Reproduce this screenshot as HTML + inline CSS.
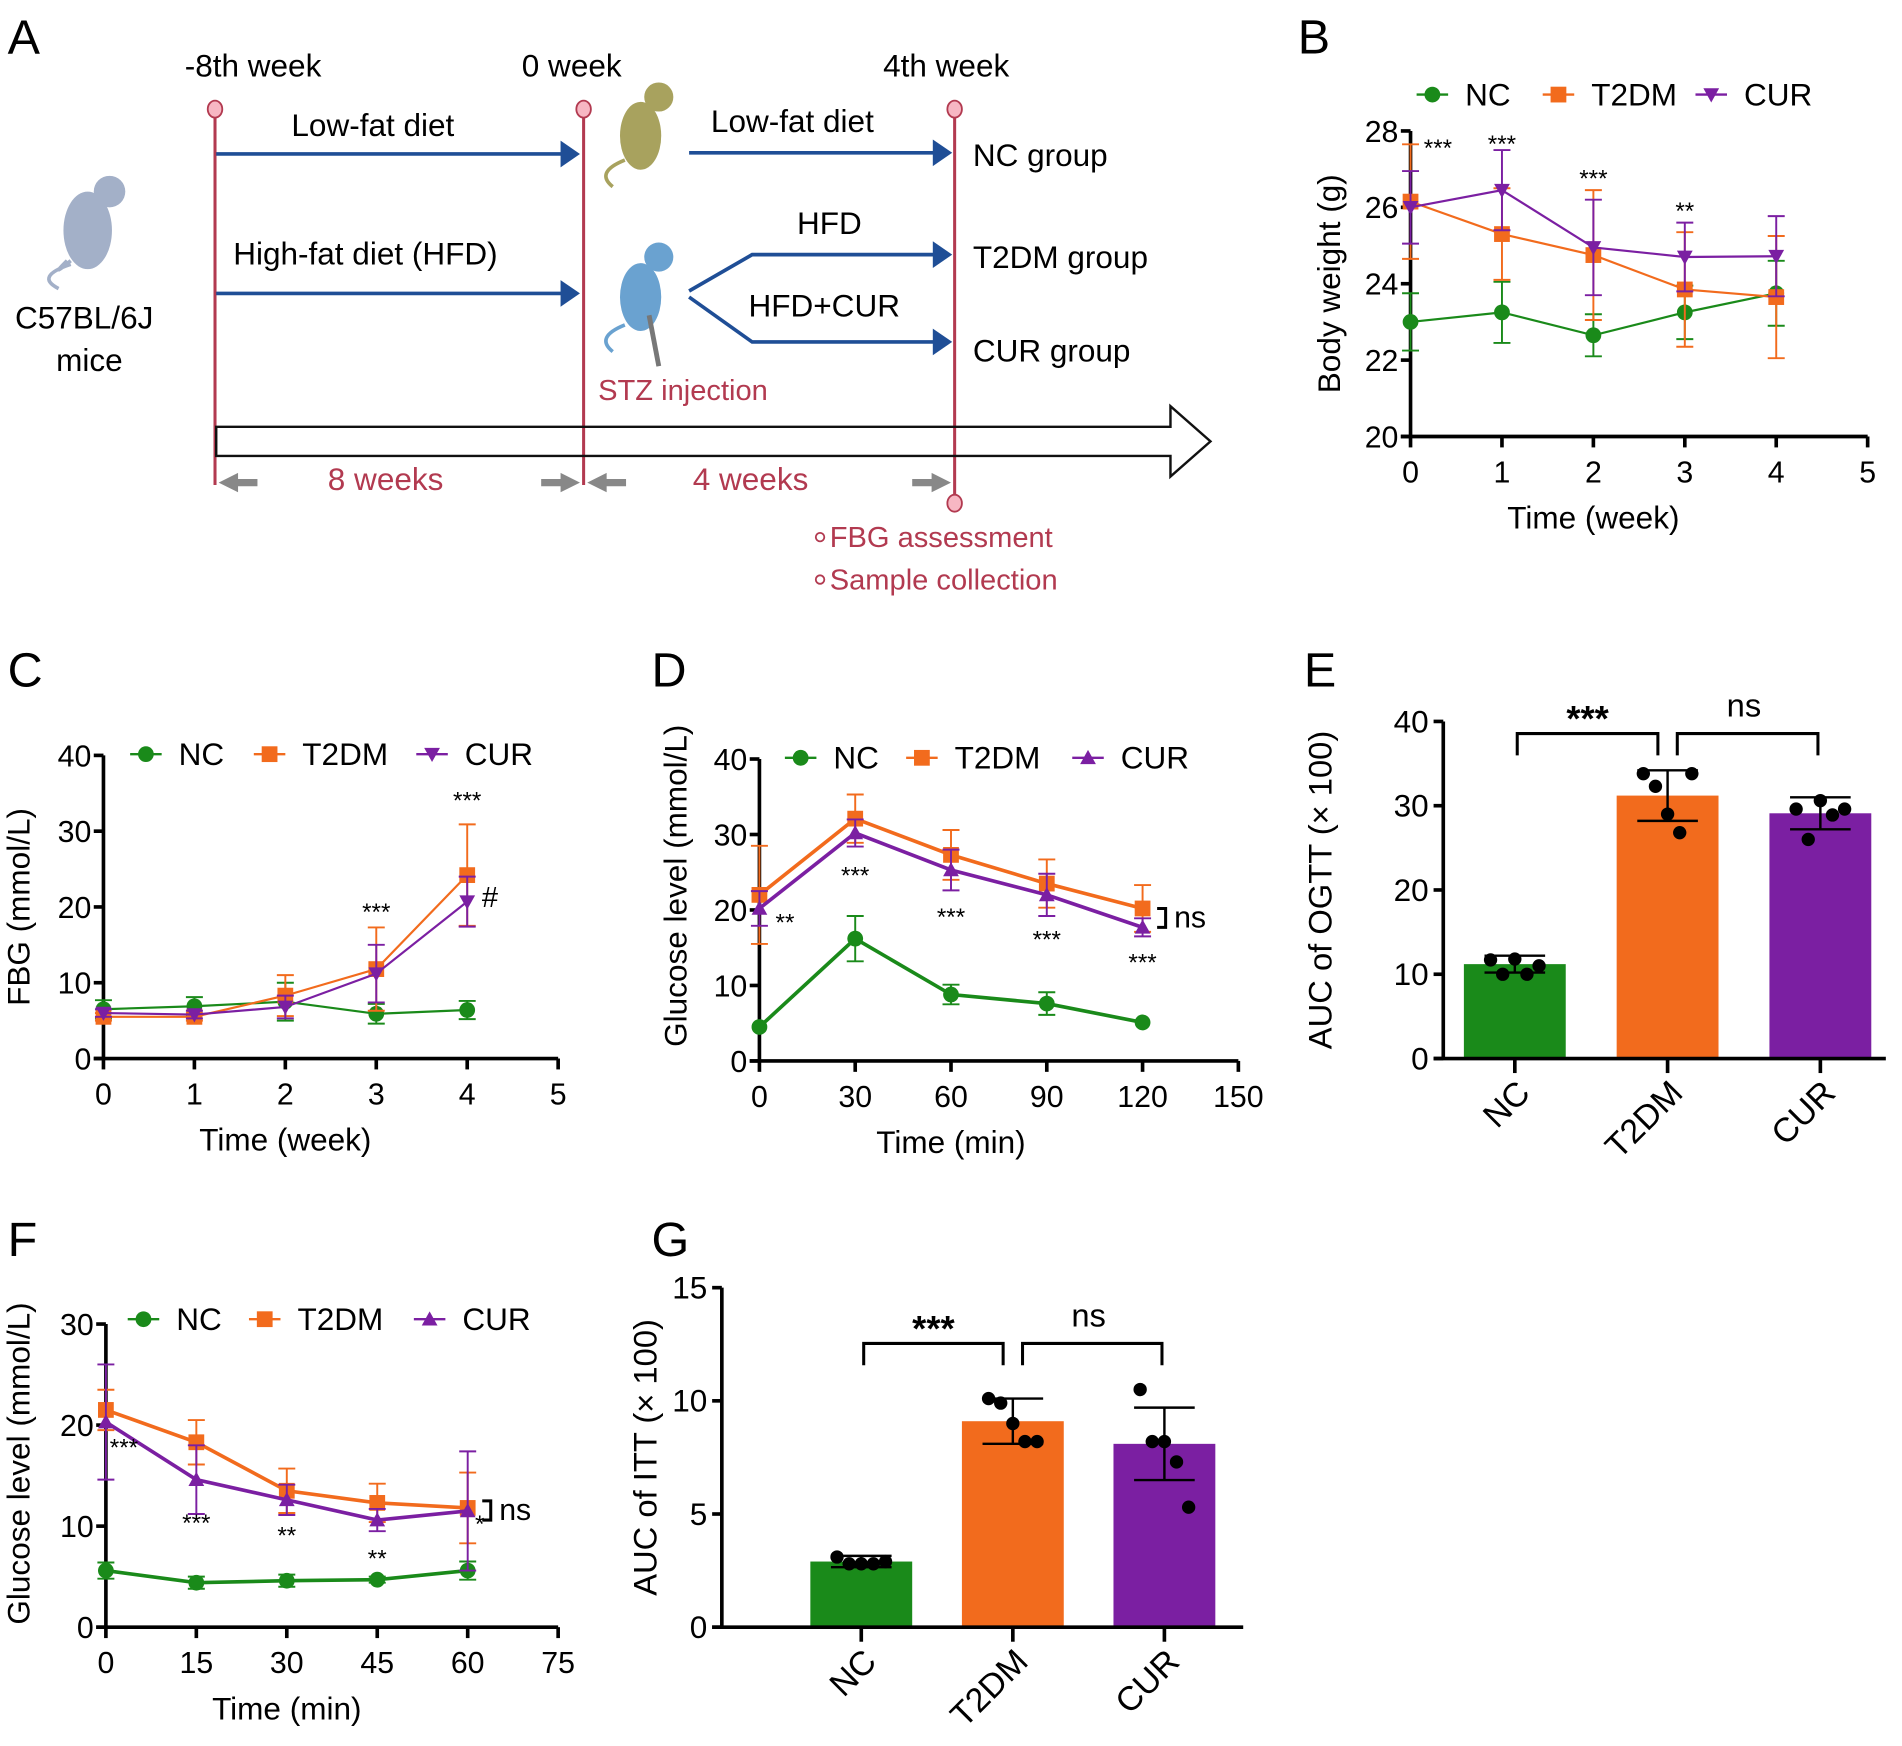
<!DOCTYPE html>
<html><head><meta charset="utf-8">
<style>
html,body{margin:0;padding:0;background:#fff;}
svg{display:block;font-family:"Liberation Sans",Arial,sans-serif;}
</style></head>
<body>
<svg id="fig" width="1902" height="1746" viewBox="0 0 1568 1440" xmlns="http://www.w3.org/2000/svg">
<g id="panelA">
  <text x="6" y="44" font-size="40">A</text>
  <text x="152" y="63" font-size="26">-8th week</text>
  <text x="430" y="63" font-size="26">0 week</text>
  <text x="728" y="63" font-size="26">4th week</text>
  <line x1="177" y1="90" x2="177" y2="400" stroke="#b23a50" stroke-width="2.5"/>
  <line x1="481" y1="90" x2="481" y2="400" stroke="#b23a50" stroke-width="2.5"/>
  <line x1="787" y1="90" x2="787" y2="415" stroke="#b23a50" stroke-width="2.5"/>
  <ellipse cx="177" cy="90" rx="6" ry="7" fill="#f7b7c3" stroke="#b23a50" stroke-width="1.5"/>
  <ellipse cx="481" cy="90" rx="6" ry="7" fill="#f7b7c3" stroke="#b23a50" stroke-width="1.5"/>
  <ellipse cx="787" cy="90" rx="6" ry="7" fill="#f7b7c3" stroke="#b23a50" stroke-width="1.5"/>
  <ellipse cx="787" cy="415" rx="6" ry="7" fill="#f7b7c3" stroke="#b23a50" stroke-width="1.5"/>
  <g stroke="#1f4e96" stroke-width="3" fill="none">
    <line x1="178" y1="127" x2="468" y2="127"/>
    <line x1="178" y1="242" x2="468" y2="242"/>
    <line x1="568" y1="126" x2="774" y2="126"/>
    <polyline points="568,240 620,210 774,210"/>
    <polyline points="568,245 620,282 774,282"/>
  </g>
  <g fill="#1f4e96">
    <polygon points="478,127 462,116 462,138"/>
    <polygon points="478,242 462,231 462,253"/>
    <polygon points="785,126 769,115 769,137"/>
    <polygon points="785,210 769,199 769,221"/>
    <polygon points="785,282 769,271 769,293"/>
  </g>
  <text x="240" y="112" font-size="26">Low-fat diet</text>
  <text x="192" y="218" font-size="26">High-fat diet (HFD)</text>
  <text x="586" y="109" font-size="26">Low-fat diet</text>
  <text x="657" y="193" font-size="26">HFD</text>
  <text x="617" y="261" font-size="26">HFD+CUR</text>
  <text x="802" y="137" font-size="26">NC group</text>
  <text x="802" y="221" font-size="26">T2DM group</text>
  <text x="802" y="298" font-size="26">CUR group</text>
  <text x="12" y="271" font-size="26">C57BL/6J</text>
  <text x="46" y="306" font-size="26">mice</text>
  <text x="493" y="330" font-size="24" fill="#b23a50">STZ injection</text>
  <g fill="#a3b0c8">
    <ellipse cx="72" cy="190" rx="20" ry="32"/><circle cx="90" cy="158" r="13"/>
    <path d="M58 215 Q40 230 55 215 M58 218 q-30 10 -10 20" stroke="#a3b0c8" stroke-width="3" fill="none"/>
  </g>
  <g fill="#a8a25e">
    <ellipse cx="528" cy="112" rx="17" ry="28"/><circle cx="543" cy="80" r="12"/>
    <path d="M515 132 q-25 10 -10 22" stroke="#a8a25e" stroke-width="3" fill="none"/>
  </g>
  <g fill="#6aa2d0">
    <ellipse cx="528" cy="245" rx="17" ry="28"/><circle cx="543" cy="212" r="12"/>
    <path d="M515 268 q-25 10 -10 22" stroke="#6aa2d0" stroke-width="3" fill="none"/>
    <line x1="535" y1="260" x2="543" y2="302" stroke="#777" stroke-width="4"/>
  </g>
  <polygon points="178,352 965,352 965,335 998,364 965,393 965,376 178,376" fill="none" stroke="#111" stroke-width="2"/>
  <g fill="#888">
    <polygon points="180,398 196,390 196,395 212,395 212,401 196,401 196,406"/>
    <polygon points="478,398 462,390 462,395 446,395 446,401 462,401 462,406"/>
    <polygon points="484,398 500,390 500,395 516,395 516,401 500,401 500,406"/>
    <polygon points="784,398 768,390 768,395 752,395 752,401 768,401 768,406"/>
  </g>
  <text x="270" y="404" font-size="26" fill="#b23a50">8 weeks</text>
  <text x="571" y="404" font-size="26" fill="#b23a50">4 weeks</text>
  <circle cx="676" cy="443" r="3.5" fill="none" stroke="#b23a50" stroke-width="1.5"/>
  <circle cx="676" cy="478" r="3.5" fill="none" stroke="#b23a50" stroke-width="1.5"/>
  <text x="684" y="451" font-size="24" fill="#b23a50">FBG assessment</text>
  <text x="684" y="486" font-size="24" fill="#b23a50">Sample collection</text>
</g>
<g id="charts"></g>
</svg>
<script>
// ---------- Data ----------
const weeks = [0,1,2,3,4];
const bwNC = [23.0,23.25,22.65,23.25,23.75];
const bwNCerr = [0.75,0.8,0.55,0.7,0.85];
const bwT2 = [26.15,25.3,24.75,23.85,23.65];
const bwT2err = [1.5,1.2,1.7,1.5,1.6];
const bwCUR = [26.0,26.45,24.95,24.7,24.72];
const bwCURerr = [0.95,1.05,1.25,0.9,1.05];
const bwTicksX = [0,1,2,3,4,5];
const bwTicksY = [20,22,24,26,28];

const fbgNC = [6.5,6.9,7.5,5.9,6.4];
const fbgNCerr = [1.2,1.2,2.5,1.3,1.2];
const fbgT2 = [5.5,5.5,8.3,11.8,24.2];
const fbgT2err = [0.5,0.5,2.7,5.5,6.7];
const fbgCUR = [6.0,5.8,6.8,11.2,20.7];
const fbgCURerr = [0.5,0.5,1.5,3.8,3.3];
const fbgTicksY = [0,10,20,30,40];

const ogttTime = [0,30,60,90,120];
const ogttNC = [4.5,16.2,8.8,7.6,5.1];
const ogttNCerr = [0,3.0,1.3,1.5,0];
const ogttT2 = [22.0,32.1,27.3,23.5,20.2];
const ogttT2err = [6.5,3.2,3.3,3.2,3.1];
const ogttCUR = [20.2,30.2,25.3,22.0,17.7];
const ogttCURerr = [2.3,1.8,2.7,2.8,1.2];
const ogttTicksX = [0,30,60,90,120,150];
const ogttTicksY = [0,10,20,30,40];

const ittTime = [0,15,30,45,60];
const ittNC = [5.6,4.4,4.6,4.7,5.6];
const ittNCerr = [0.8,0.6,0.6,0.3,0.9];
const ittT2 = [21.5,18.3,13.5,12.3,11.8];
const ittT2err = [2.0,2.2,2.2,1.9,3.5];
const ittCUR = [20.3,14.6,12.6,10.6,11.5];
const ittCURerr = [5.7,3.4,1.5,1.1,5.9];
const ittTicksX = [0,15,30,45,60,75];
const ittTicksY = [0,10,20,30];

const groups = ["NC","T2DM","CUR"];
const aucOgtt = [11.2,31.2,29.1];
const aucOgttErr = [1.0,3.0,1.9];
const aucOgttDots = [[11.7,10.0,11.8,10.0,11.0],[33.8,32.3,29.0,26.8,33.8],[29.6,26.0,30.6,28.9,29.6]];
const aucOgttTicks = [0,10,20,30,40];
const aucItt = [2.9,9.1,8.1];
const aucIttErr = [0.25,1.0,1.6];
const aucIttDots = [[3.1,2.8,2.8,2.8,2.9],[10.1,9.9,9.0,8.2,8.2],[10.5,8.2,8.2,7.3,5.3]];
const aucIttTicks = [0,5,10,15];

// ---------- Helpers ----------
const NS = "http://www.w3.org/2000/svg";
const root = document.getElementById('charts');
const GREEN="#1a8a1a", ORANGE="#f26b1d", PURPLE="#7b1fa2";
function mk(tag, attrs, parent){const e=document.createElementNS(NS,tag);for(const k in attrs)e.setAttribute(k,attrs[k]);(parent||root).appendChild(e);return e;}
function txt(s,x,y,size,parent,extra){const t=mk('text',Object.assign({x:x,y:y,'font-size':size},extra||{}),parent);t.textContent=s;return t;}
function scale(d0,d1,r0,r1){return v=>r0+(v-d0)*(r1-r0)/(d1-d0);}

function marker(g,shape,x,y,c,s){
  let m;
  if(shape==='circle') m=mk('circle',{cx:x,cy:y,r:s,fill:c},g);
  else if(shape==='square') m=mk('rect',{x:x-s,y:y-s,width:2*s,height:2*s,fill:c},g);
  else if(shape==='down') m=mk('polygon',{points:`${x-s},${y-s*0.8} ${x+s},${y-s*0.8} ${x},${y+s}`,fill:c},g);
  else m=mk('polygon',{points:`${x-s},${y+s*0.8} ${x+s},${y+s*0.8} ${x},${y-s}`,fill:c},g);
  return m;
}

function lineChart(cfg){
  const g=mk('g',{});
  
  
  const sx=scale(cfg.xd[0],cfg.xd[1],cfg.x0,cfg.x1), sy=scale(cfg.yd[0],cfg.yd[1],cfg.y0,cfg.y1);
  const ya=mk('line',{x1:cfg.x0,y1:cfg.y0+1,x2:cfg.x0,y2:cfg.y1,stroke:'#000','stroke-width':3},g);
  
  
  const xa=mk('line',{x1:cfg.x0-8,y1:cfg.y0,x2:cfg.x1,y2:cfg.y0,stroke:'#000','stroke-width':3},g);
  
  
  cfg.ty.forEach(v=>{mk('line',{x1:cfg.x0-8,y1:sy(v),x2:cfg.x0,y2:sy(v),stroke:'#000','stroke-width':3},g);
    const t=txt(String(v),cfg.x0-10,sy(v)+9,25,g,{'text-anchor':'end'});
    
    });
  cfg.tx.forEach(v=>{mk('line',{x1:sx(v),y1:cfg.y0,x2:sx(v),y2:cfg.y0+9,stroke:'#000','stroke-width':3},g);
    const t=txt(String(v),sx(v),cfg.y0+38,25,g,{'text-anchor':'middle'});
    
    });
  const xt=txt(cfg.xtitle,(cfg.x0+sx(cfg.tx[cfg.tx.length-2]))/2+(cfg.xtOff||0),cfg.y0+76,26,g,{'text-anchor':'middle'});
  
  
  const yt=txt(cfg.ytitle,0,0,26,g,{'text-anchor':'middle',transform:`translate(${cfg.ytx},${(cfg.y0+cfg.y1)/2+(cfg.ytOff||0)}) rotate(-90)`});
  
  
  cfg.series.forEach(s=>{
    const sg=mk('g',{},g);
    
    
    cfg.xs.forEach((x,i)=>{const e=s.err[i]; if(e>0){
      const X=sx(x);
      mk('line',{x1:X,y1:sy(s.v[i]-e),x2:X,y2:sy(s.v[i]+e),stroke:s.c,'stroke-width':1.6},sg);
      mk('line',{x1:X-7,y1:sy(s.v[i]+e),x2:X+7,y2:sy(s.v[i]+e),stroke:s.c,'stroke-width':1.6},sg);
      mk('line',{x1:X-7,y1:sy(s.v[i]-e),x2:X+7,y2:sy(s.v[i]-e),stroke:s.c,'stroke-width':1.6},sg);}});
    const pl=mk('polyline',{points:cfg.xs.map((x,i)=>sx(x)+','+sy(s.v[i])).join(' '),fill:'none',stroke:s.c,'stroke-width':cfg.lw||1.8},sg);
    
    
    cfg.xs.forEach((x,i)=>{const m=marker(sg,s.shape,sx(x),sy(s.v[i]),s.c,cfg.ms||6.5);
      
      });
  });
  cfg.series.forEach((s,i)=>{
    const lx=cfg.legX[i];
    const lg=mk('g',{},g);
    
    
    mk('line',{x1:lx,y1:cfg.legY,x2:lx+26,y2:cfg.legY,stroke:s.c,'stroke-width':2},lg);
    marker(lg,s.shape,lx+13,cfg.legY,s.c,6.5);
    txt(s.label,lx+40,cfg.legY+9,26,lg);
  });
  (cfg.stars||[]).forEach(st=>{const t=txt(st[2],sx(st[0]),sy(st[1]),st[3]||20,g,{'text-anchor':'middle'});
    
    });
  if(cfg.ns){const [xv,a,b]=cfg.ns;const X=sx(xv)+12;
    mk('polyline',{points:`${X},${sy(a)} ${X+7},${sy(a)} ${X+7},${sy(b)} ${X},${sy(b)}`,fill:'none',stroke:'#000','stroke-width':2.5},g);
    const t=txt('ns',X+14,(sy(a)+sy(b))/2+8,25,g);
    
    }
  const lbl=txt(cfg.letter,cfg.lx,cfg.ly,40,g);
  
  
}

function barChart(cfg){
  const g=mk('g',{});
  
  
  const sy=scale(cfg.yd[0],cfg.yd[1],cfg.y0,cfg.y1);
  const cols=[GREEN,ORANGE,PURPLE];
  cfg.vals.forEach((v,i)=>{
    const cx=cfg.cx[i];
    const r=mk('rect',{x:cx-cfg.bw/2,y:sy(v),width:cfg.bw,height:cfg.y0-sy(v),fill:cols[i]},g);
    
    
  });
  cfg.vals.forEach((v,i)=>{
    const cx=cfg.cx[i], e=cfg.err[i];
    mk('line',{x1:cx,y1:sy(v-e),x2:cx,y2:sy(v+e),stroke:'#000','stroke-width':2},g);
    mk('line',{x1:cx-25,y1:sy(v+e),x2:cx+25,y2:sy(v+e),stroke:'#000','stroke-width':2},g);
    mk('line',{x1:cx-25,y1:sy(v-e),x2:cx+25,y2:sy(v-e),stroke:'#000','stroke-width':2},g);
    const offs=[-20,-10,0,10,20];
    cfg.dots[i].forEach((d,j)=>{const c=mk('circle',{cx:cx+offs[j]*(cfg.dotSpread||1),cy:sy(d),r:5.5,fill:'#000'},g);
      
      });
  });
  mk('line',{x1:cfg.x0,y1:cfg.y0+1,x2:cfg.x0,y2:cfg.y1,stroke:'#000','stroke-width':3},g);
  mk('line',{x1:cfg.x0-8,y1:cfg.y0,x2:cfg.x1,y2:cfg.y0,stroke:'#000','stroke-width':3},g);
  cfg.ticks.forEach(v=>{mk('line',{x1:cfg.x0-8,y1:sy(v),x2:cfg.x0,y2:sy(v),stroke:'#000','stroke-width':3},g);
    const t=txt(String(v),cfg.x0-12,sy(v)+9,26,g,{'text-anchor':'end'});
    
    });
  groups.forEach((n,i)=>{const cx=cfg.cx[i];
    mk('line',{x1:cx,y1:cfg.y0,x2:cx,y2:cfg.y0+12,stroke:'#000','stroke-width':3},g);
    const t=txt(n,0,0,28,g,{'text-anchor':'end',transform:`translate(${cx+14},${cfg.y0+30}) rotate(-45)`});
    
    });
  const yt=txt(cfg.ytitle,0,0,27,g,{'text-anchor':'middle',transform:`translate(${cfg.ytx},${(cfg.y0+cfg.y1)/2}) rotate(-90)`});
  
  
  const by=cfg.brY;
  mk('polyline',{points:`${cfg.cx[0]+2},${by+18} ${cfg.cx[0]+2},${by} ${cfg.cx[1]-8},${by} ${cfg.cx[1]-8},${by+18}`,fill:'none',stroke:'#000','stroke-width':2.5},g);
  mk('polyline',{points:`${cfg.cx[1]+8},${by+18} ${cfg.cx[1]+8},${by} ${cfg.cx[2]-2},${by} ${cfg.cx[2]-2},${by+18}`,fill:'none',stroke:'#000','stroke-width':2.5},g);
  const s1=txt('***',(cfg.cx[0]+cfg.cx[1])/2-3,by-2,30,g,{'text-anchor':'middle','font-weight':'bold'});
  
  
  const s2=txt('ns',(cfg.cx[1]+cfg.cx[2])/2,by-14,27,g,{'text-anchor':'middle'});
  
  
  const lbl=txt(cfg.letter,cfg.lx,cfg.ly,40,g);
  
  
}

// ---------- Panels ----------
lineChart({name:'panel-b-body-weight',letter:'B',lx:1070,ly:44,x0:1163,x1:1540,y0:360,y1:108,xd:[0,5],yd:[20,28],
  tx:bwTicksX,ty:bwTicksY,xs:weeks,xtitle:'Time (week)',ytitle:'Body weight (g)',ytx:1105,xtOff:0,
  series:[{label:'NC',v:bwNC,err:bwNCerr,c:GREEN,shape:'circle'},{label:'T2DM',v:bwT2,err:bwT2err,c:ORANGE,shape:'square'},{label:'CUR',v:bwCUR,err:bwCURerr,c:PURPLE,shape:'down'}],
  legX:[1168,1272,1398],legY:78,
  stars:[[0.3,27.35,'***'],[1,27.45,'***'],[2,26.55,'***'],[3,25.7,'**']]});
lineChart({name:'panel-c-fbg',letter:'C',lx:6,ly:566,x0:85,x1:460,y0:873,y1:623,xd:[0,5],yd:[0,40],
  tx:bwTicksX,ty:fbgTicksY,xs:weeks,xtitle:'Time (week)',ytitle:'FBG (mmol/L)',ytx:24,
  series:[{label:'NC',v:fbgNC,err:fbgNCerr,c:GREEN,shape:'circle'},{label:'T2DM',v:fbgT2,err:fbgT2err,c:ORANGE,shape:'square'},{label:'CUR',v:fbgCUR,err:fbgCURerr,c:PURPLE,shape:'down'}],
  legX:[107,209,343],legY:622,
  stars:[[3,18.3,'***'],[4,33,'***'],[4.25,20,'#',24]]});
lineChart({name:'panel-d-ogtt',letter:'D',lx:537,ly:566,x0:626,x1:1021,y0:875,y1:626,xd:[0,150],yd:[0,40],lw:3,
  tx:ogttTicksX,ty:ogttTicksY,xs:ogttTime,xtitle:'Time (min)',ytitle:'Glucose level (mmol/L)',ytx:566,ytOff:-20,
  series:[{label:'NC',v:ogttNC,err:ogttNCerr,c:GREEN,shape:'circle'},{label:'T2DM',v:ogttT2,err:ogttT2err,c:ORANGE,shape:'square'},{label:'CUR',v:ogttCUR,err:ogttCURerr,c:PURPLE,shape:'up'}],
  legX:[647,747,884],legY:625,
  stars:[[8,17.3,'**'],[30,23.5,'***'],[60,18,'***'],[90,15,'***'],[120,12,'***']],ns:[120,20.2,17.7]});
lineChart({name:'panel-f-itt',letter:'F',lx:6,ly:1036,x0:87,x1:460,y0:1342,y1:1092,xd:[0,75],yd:[0,30],lw:3,
  tx:ittTicksX,ty:ittTicksY,xs:ittTime,xtitle:'Time (min)',ytitle:'Glucose level (mmol/L)',ytx:24,ytOff:-10,
  series:[{label:'NC',v:ittNC,err:ittNCerr,c:GREEN,shape:'circle'},{label:'T2DM',v:ittT2,err:ittT2err,c:ORANGE,shape:'square'},{label:'CUR',v:ittCUR,err:ittCURerr,c:PURPLE,shape:'up'}],
  legX:[105,205,341],legY:1088,
  stars:[[3,17,'***'],[15,9.5,'***'],[30,8.3,'**'],[45,6,'**'],[62,9.4,'*']],ns:[60,12.5,10.6]});
barChart({name:'panel-e-auc-ogtt',letter:'E',lx:1075,ly:566,x0:1190,x1:1555,y0:873,y1:595,yd:[0,40],
  cx:[1249,1375,1501],bw:84,vals:aucOgtt,err:aucOgttErr,dots:aucOgttDots,ticks:aucOgttTicks,
  ytitle:'AUC of OGTT (× 100)',ytx:1098,brY:605});
barChart({name:'panel-g-auc-itt',letter:'G',lx:537,ly:1036,x0:595,x1:1025,y0:1342,y1:1062,yd:[0,15],
  cx:[710,835,960],bw:84,vals:aucItt,err:aucIttErr,dots:aucIttDots,ticks:aucIttTicks,
  ytitle:'AUC of ITT (× 100)',ytx:541,brY:1108});
</script>
</body></html>
